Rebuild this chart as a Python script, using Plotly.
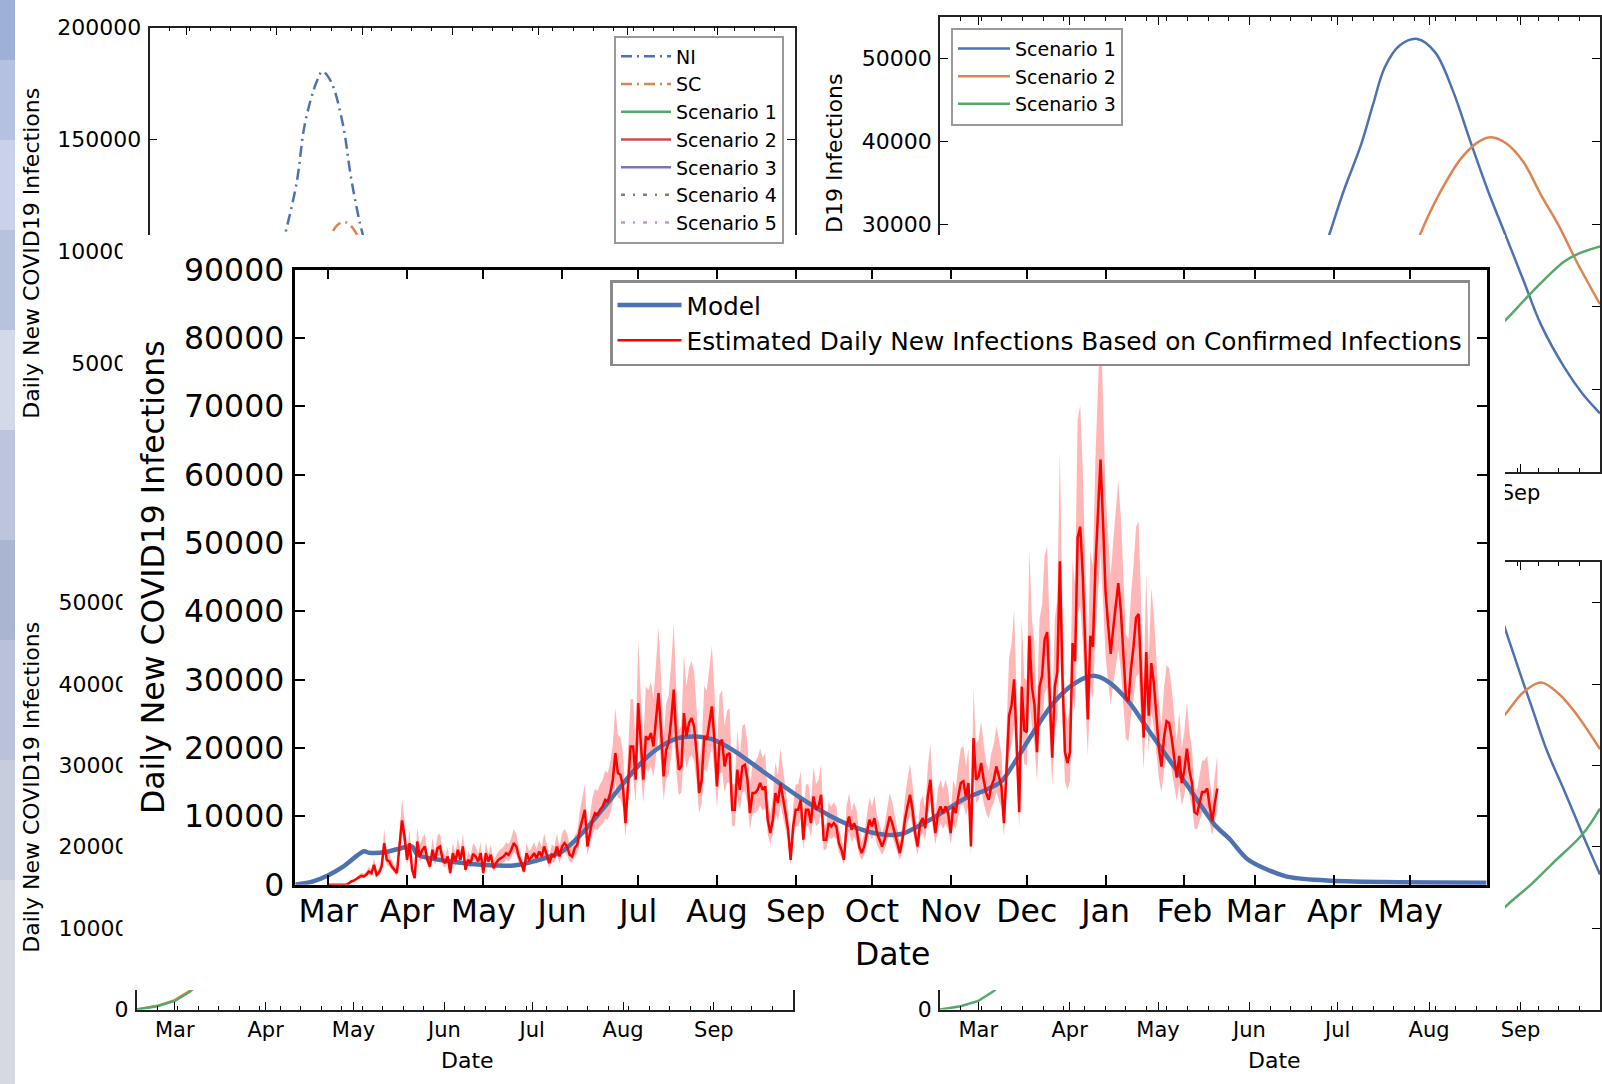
import plotly.graph_objects as go
import pandas as pd

W, H = 1602, 1084

# ---------------- data ----------------
MAIN_MONTHS = ['2020-03-01', '2020-04-01', '2020-05-01', '2020-06-01', '2020-07-01',
               '2020-08-01', '2020-09-01', '2020-10-01', '2020-11-01', '2020-12-01',
               '2021-01-01', '2021-02-01', '2021-03-01', '2021-04-01', '2021-05-01']
PANEL_MONTHS = ['2020-03-01', '2020-04-01', '2020-05-01', '2020-06-01',
                '2020-07-01', '2020-08-01', '2020-09-01']
PANEL_MONTH_LABELS = ['Mar', 'Apr', 'May', 'Jun', 'Jul', 'Aug', 'Sep']
# only "Sep" of the top-right panel's date axis shows beside the front chart
TR_MONTH_LABELS = ['', '', '', '', '', '', 'Sep']

TL_YTICKS = [0, 50000, 100000, 150000, 200000]
TL_YLABELS = ['', '50000', '100000', '150000', '200000']
SMALL_YTICKS = [0, 10000, 20000, 30000, 40000, 50000]
BL_YLABELS = ['0', '10000', '20000', '30000', '40000', '50000']
TR_YLABELS = ['', '', '', '30000', '40000', '50000']
BR_YLABELS = ['0', '', '', '', '', '']

MODEL_DATES = ['2020-02-17', '2020-02-24', '2020-03-01', '2020-03-07', '2020-03-15',
               '2020-03-17', '2020-03-23', '2020-03-28', '2020-04-03', '2020-04-05',
               '2020-04-13', '2020-04-23', '2020-05-03', '2020-05-13', '2020-05-23',
               '2020-06-01', '2020-06-09', '2020-06-20', '2020-06-30', '2020-07-08',
               '2020-07-16', '2020-07-24', '2020-07-30', '2020-08-07', '2020-08-20',
               '2020-09-02', '2020-09-15', '2020-09-27', '2020-10-06', '2020-10-13',
               '2020-10-25', '2020-11-07', '2020-11-15', '2020-11-21', '2020-11-26',
               '2020-12-04', '2020-12-12', '2020-12-20', '2020-12-27', '2021-01-02',
               '2021-01-10', '2021-01-18', '2021-01-26', '2021-02-03', '2021-02-13',
               '2021-02-19', '2021-02-26', '2021-03-13', '2021-03-29', '2021-04-20',
               '2021-05-31']
MODEL_VALUES = [0, 500, 1400, 2700, 4900,
                4700, 4750, 5200, 5600, 4400,
                3700, 3200, 2850, 2830, 3650,
                4880, 7570, 12440, 17000, 19760,
                21400, 21700, 21300, 19770, 16360,
                12940, 10000, 8060, 7330, 7470,
                9760, 12690, 13900, 15140, 17790,
                22580, 26840, 29500, 30570, 29740,
                26840, 22580, 18330, 14080, 8760,
                6630, 3700, 1230, 630, 400,
                300]

ESTIMATE_START = '2020-03-01'
ESTIMATE_VALUES = [
    # Mar - early Apr 2020
    0, 0, 0, 0, 0, 0, 0, 0, 200, 490, 600, 830, 1000, 1320, 1220, 1500, 1950, 1700,
    2930, 1460, 1810, 2680, 6100, 3660, 3420, 2680, 2200, 1710, 5610, 9420, 7080,
    3660, 6100, 2200, 980, 6340,
    # Apr - Jul 2020
    4150, 5120, 5610, 3660, 2680, 5120, 3660, 5370, 5610, 3660,
    3170, 4150, 1710, 4640, 3420, 5120, 3660, 5610, 2200, 3660,
    3170, 4540, 4150, 3420, 4640, 1710, 4640, 3420, 4390, 2440,
    3170, 3660, 3900, 4150, 4640, 4390, 5120, 6100, 5610, 4150,
    3170, 1950, 4640, 3660, 4050, 4640, 3900, 4880, 4150, 5610,
    4390, 3170, 4390, 4150, 5610, 4150, 5610, 6100, 5610, 4390,
    4150, 5370, 5860, 8050, 9520, 10980, 5610, 7570, 9520, 10490,
    10250, 10980, 11470, 12440, 12200, 13420, 15370, 19280, 16350, 16100,
    14400, 9030, 14400, 20250, 20250, 15370, 26600, 20740, 15370, 21720,
    21230, 22200, 20250, 24160, 28060, 22690, 15860, 19760, 20740, 24160,
    28550, 21230, 16840, 17330, 25130, 21720, 23670, 24400, 23180, 19280,
    13420, 15370, 21720, 21230,
    # Jul - Nov 2020
    23670, 26110, 21230, 14400, 20740, 21230, 17330, 19030, 19280, 10980,
    10980, 16840, 13900, 17330, 17570, 15370, 10490, 13420, 13420, 13900,
    14890, 13900, 14400, 9520, 7570, 9520, 13420, 11960, 14890, 12930,
    10490, 8050, 3660, 8540, 10980, 10980, 12440, 6590, 10980, 10980,
    9030, 12930, 10980, 11470, 13180, 6590, 6590, 9030, 8540, 9030,
    8540, 6100, 5120, 3660, 8540, 10000, 8050, 9030, 8050, 5610,
    4640, 5610, 7570, 9520, 8540, 9760, 7570, 6590, 5610, 6590,
    8540, 10000, 9030, 7570, 6100, 4640, 6590, 9520, 11470, 13180,
    10980, 7570, 5610, 9030, 9760, 8300, 12930, 15370, 10490, 7570,
    10490, 11470, 10490, 11470, 10490, 7570, 11470, 10490, 12930, 14890,
    15130, 12930, 14890, 5610, 21480, 15370, 15860, 17820, 15370, 13420,
    12440, 14400, 15370, 17330, 15860, 14400,
    # Nov 2020 - Feb 2021
    9030, 16740, 24730, 26320, 30050, 20480, 10630, 28990, 22600, 22340,
    36440, 28990, 26320, 19410, 28990, 30580, 35900, 36970, 26320, 18610,
    28990, 31110, 47350, 30580, 19410, 17820, 19410, 35370, 32700, 50800,
    52400, 45470, 34840, 24200, 36440, 34840, 46540, 53990, 62230, 52920,
    42820, 38030, 33770, 37500, 41220, 44150, 40160, 34300, 27390, 26860,
    31650, 34840, 39090, 39630, 30050, 21530, 34040, 24730, 32440, 29510,
    24730, 19940, 17280, 21530, 23940, 23670, 21530, 18340, 15690, 18880,
    14890, 16740, 19940, 16740, 14890, 10630, 10360, 11970, 13560, 13560,
    14100, 11430, 9300, 11970, 14100,
]
# edges of the shaded band, read as multiples of the red line
BAND_LOWER_RATIO = 0.78
BAND_UPPER_RATIO = 1.34

# top-left background panel (NI / SC peaks visible above the front chart)
TL_NI_DATES = ['2020-04-01', '2020-04-04', '2020-04-08', '2020-04-11', '2020-04-15',
               '2020-04-17', '2020-04-20', '2020-04-24', '2020-04-27', '2020-04-30',
               '2020-05-03']
TL_NI_VALUES = [92000, 107300, 130200, 157500, 175800, 180400, 175800, 157500,
                132400, 112800, 98000]
TL_SC_DATES = ['2020-04-17', '2020-04-20', '2020-04-22', '2020-04-24', '2020-04-26',
               '2020-04-28', '2020-05-01']
TL_SC_VALUES = [100000, 107500, 111500, 113000, 112500, 109500, 103000]
# scenario curves of that panel lie behind the front chart; only their start is estimated
TL_SCEN_DATES = ['2020-02-17', '2020-02-24', '2020-03-01', '2020-03-06', '2020-03-12']
TL_SCEN_VALUES = [0, 450, 1150, 2250, 4200]

# top-right background panel
TR_S1_DATES = ['2020-06-25', '2020-06-28', '2020-07-03', '2020-07-09', '2020-07-13',
               '2020-07-17', '2020-07-22', '2020-07-28', '2020-08-03', '2020-08-09',
               '2020-08-15', '2020-08-21', '2020-08-27', '2020-09-02', '2020-09-08',
               '2020-09-16', '2020-09-22', '2020-09-28']
TR_S1_VALUES = [25500, 28600, 34000, 39700, 44500, 49000, 51600, 52400, 50800, 46200,
                40000, 34000, 28600, 23200, 17800, 12600, 9500, 7100]
TR_S2_DATES = ['2020-07-26', '2020-07-29', '2020-08-05', '2020-08-12', '2020-08-18',
               '2020-08-22', '2020-08-27', '2020-09-02', '2020-09-08', '2020-09-14',
               '2020-09-20', '2020-09-28']
TR_S2_VALUES = [26000, 28800, 34000, 38000, 40000, 40500, 39800, 37500, 33500, 29800,
                25500, 20300]
TR_S3_DATES = ['2020-08-20', '2020-08-27', '2020-09-05', '2020-09-16', '2020-09-22',
               '2020-09-28']
TR_S3_VALUES = [16000, 18400, 21800, 25500, 26600, 27300]

# bottom-left background panel (only the very start is visible)
BL_EARLY_DATES = ['2020-02-17', '2020-02-24', '2020-03-01', '2020-03-06', '2020-03-12']
BL_S2_VALUES = [0, 450, 1150, 2250, 4200]
BL_S3_VALUES = [0, 400, 1050, 2150, 4000]

# bottom-right background panel
BR_EARLY_DATES = ['2020-02-17', '2020-02-24', '2020-03-01', '2020-03-06', '2020-03-12']
BR_S3_EARLY = [0, 400, 1050, 2200, 4000]
BR_S1_DATES = ['2020-08-22', '2020-08-28', '2020-09-01', '2020-09-05', '2020-09-10',
               '2020-09-16', '2020-09-22', '2020-09-28']
BR_S1_VALUES = [52000, 45500, 41200, 37000, 31800, 26800, 21600, 16600]
BR_S2_DATES = ['2020-08-22', '2020-08-28', '2020-09-02', '2020-09-08', '2020-09-14',
               '2020-09-20', '2020-09-28']
BR_S2_VALUES = [34000, 36800, 39000, 40200, 38800, 36300, 32000]
BR_S3_DATES = ['2020-08-22', '2020-08-28', '2020-09-05', '2020-09-12', '2020-09-22',
               '2020-09-28']
BR_S3_VALUES = [11000, 13000, 15500, 18000, 21500, 24700]

# ---------------- styling ----------------
BLUE, ORANGE, GREEN = '#4c72b0', '#dd8452', '#55a868'
RED2, PURPLE, BROWN, PINK = '#c44e52', '#8172b3', '#937860', '#da8bc3'
FONT = 'DejaVu Sans'
MAIN_FS = 31.5
PANEL_FS = 22
LEG_FS = 19


def dom_x(left, right):
    return [left / W, right / W]


def dom_y(top, bottom):
    return [1 - bottom / H, 1 - top / H]


est_dates = pd.date_range(ESTIMATE_START, periods=len(ESTIMATE_VALUES), freq='D')
band_low = [v * BAND_LOWER_RATIO for v in ESTIMATE_VALUES]
band_high = [v * BAND_UPPER_RATIO for v in ESTIMATE_VALUES]

fig = go.Figure()

# ---- subplot 1: top-left panel ----
fig.add_trace(go.Scatter(x=TL_NI_DATES, y=TL_NI_VALUES, mode='lines', name='NI',
                         line=dict(color=BLUE, width=2.5, dash='11px,5px,2px,5px',
                                   shape='spline'),
                         xaxis='x', yaxis='y', legend='legend2'))
fig.add_trace(go.Scatter(x=TL_SC_DATES, y=TL_SC_VALUES, mode='lines', name='SC',
                         line=dict(color=ORANGE, width=2.5, dash='11px,5px,2px,5px',
                                   shape='spline'),
                         xaxis='x', yaxis='y', legend='legend2'))
for nm, col, dash in [('Scenario 1', GREEN, 'solid'), ('Scenario 2', RED2, 'solid'),
                      ('Scenario 3', PURPLE, 'solid'), ('Scenario 4', BROWN, '4px,8px,2px,8px'),
                      ('Scenario 5', PINK, '4px,8px,2px,8px')]:
    fig.add_trace(go.Scatter(x=TL_SCEN_DATES, y=TL_SCEN_VALUES, mode='lines', name=nm,
                             line=dict(color=col, width=2.5, dash=dash),
                             xaxis='x', yaxis='y', legend='legend2'))

# ---- subplot 2: top-right panel ----
for nm, col, xs, ys in [('Scenario 1', BLUE, TR_S1_DATES, TR_S1_VALUES),
                        ('Scenario 2', ORANGE, TR_S2_DATES, TR_S2_VALUES),
                        ('Scenario 3', GREEN, TR_S3_DATES, TR_S3_VALUES)]:
    fig.add_trace(go.Scatter(x=xs, y=ys, mode='lines', name=nm,
                             line=dict(color=col, width=2.5, shape='spline'),
                             xaxis='x2', yaxis='y2', legend='legend3'))

# ---- subplot 3: bottom-left panel ----
fig.add_trace(go.Scatter(x=BL_EARLY_DATES, y=BL_S2_VALUES, mode='lines', showlegend=False,
                         line=dict(color=ORANGE, width=2.5), xaxis='x3', yaxis='y3'))
fig.add_trace(go.Scatter(x=BL_EARLY_DATES, y=BL_S3_VALUES, mode='lines', showlegend=False,
                         line=dict(color=GREEN, width=2.5), xaxis='x3', yaxis='y3'))

# ---- subplot 4: bottom-right panel ----
fig.add_trace(go.Scatter(x=BR_EARLY_DATES, y=BR_S3_EARLY, mode='lines', showlegend=False,
                         line=dict(color=GREEN, width=2.5), xaxis='x4', yaxis='y4'))
for col, xs, ys in [(BLUE, BR_S1_DATES, BR_S1_VALUES), (ORANGE, BR_S2_DATES, BR_S2_VALUES),
                    (GREEN, BR_S3_DATES, BR_S3_VALUES)]:
    fig.add_trace(go.Scatter(x=xs, y=ys, mode='lines', showlegend=False,
                             line=dict(color=col, width=2.5, shape='spline'),
                             xaxis='x4', yaxis='y4'))

# ---- subplot 5: white sheet of the front chart (hides the panels behind it) ----
fig.add_trace(go.Scatter(x=[0, 1, 1, 0, 0], y=[0, 0, 1, 1, 0], mode='lines', fill='toself',
                         fillcolor='white', line=dict(width=0, color='white'),
                         showlegend=False, hoverinfo='skip', xaxis='x5', yaxis='y5'))

# ---- subplot 6: the front chart ----
fig.add_trace(go.Scatter(x=est_dates, y=band_low, mode='lines', line=dict(width=0),
                         showlegend=False, hoverinfo='skip', xaxis='x6', yaxis='y6'))
fig.add_trace(go.Scatter(x=est_dates, y=band_high, mode='lines', line=dict(width=0),
                         fill='tonexty', fillcolor='rgba(255,110,110,0.5)',
                         showlegend=False, hoverinfo='skip', xaxis='x6', yaxis='y6'))
fig.add_trace(go.Scatter(x=MODEL_DATES, y=MODEL_VALUES, mode='lines', name='Model',
                         line=dict(color=BLUE, width=4.5, shape='spline', smoothing=0.8),
                         xaxis='x6', yaxis='y6', legend='legend', legendgroup='m'))
fig.add_trace(go.Scatter(x=est_dates, y=ESTIMATE_VALUES, mode='lines',
                         name='Estimated Daily New Infections Based on Confirmed Infections',
                         line=dict(color='#ff0000', width=2.5),
                         xaxis='x6', yaxis='y6', legend='legend', legendgroup='e'))

PANEL_RANGE = ['2020-02-17', '2020-09-28']


def panel_x(domain, anchor, labels, show=True):
    return dict(domain=domain, anchor=anchor, range=PANEL_RANGE, type='date',
                tickvals=PANEL_MONTHS, ticktext=labels, showticklabels=show,
                ticks='inside', ticklen=8,
                tickwidth=1.2, tickcolor='black', showline=True, linecolor='#222',
                linewidth=1.5, mirror='ticks', showgrid=False, zeroline=False,
                tickfont=dict(family=FONT, size=PANEL_FS - 1, color='black'),
                minor=dict(ticks='inside', ticklen=4, tickcolor='black',
                           dtick=7 * 86400000, tick0='2020-02-17', showgrid=False),
                automargin=False, fixedrange=True, ticklabelstandoff=1)


def panel_y(domain, anchor, rng, tickvals, labels):
    return dict(domain=domain, anchor=anchor, range=rng, tickvals=tickvals, ticktext=labels,
                ticks='inside', ticklen=8, tickwidth=1.2, tickcolor='black',
                showline=True, linecolor='#222', linewidth=1.5, mirror='ticks',
                showgrid=False, zeroline=False,
                tickfont=dict(family=FONT, size=PANEL_FS, color='black'),
                automargin=False, fixedrange=True, ticklabelstandoff=2)


main_axis_common = dict(ticks='inside', ticklen=10, tickwidth=1.5, tickcolor='black',
                        showline=True, linecolor='black', linewidth=2.5, mirror='ticks',
                        showgrid=False, zeroline=False, automargin=False, fixedrange=True,
                        tickfont=dict(family=FONT, size=MAIN_FS, color='black'))

fig.update_layout(
    width=W, height=H, margin=dict(l=0, r=0, t=0, b=0),
    paper_bgcolor='white', plot_bgcolor='white',
    font=dict(family=FONT, color='black'),
    xaxis=panel_x(dom_x(149.5, 795), 'y', PANEL_MONTH_LABELS, show=False),
    yaxis=panel_y(dom_y(27.6, 475), 'x', [0, 200000], TL_YTICKS, TL_YLABELS),
    xaxis2=panel_x(dom_x(940, 1600), 'y2', TR_MONTH_LABELS),
    yaxis2=panel_y(dom_y(17.4, 472), 'x2', [0, 55000], SMALL_YTICKS, TR_YLABELS),
    xaxis3=panel_x(dom_x(136.7, 793), 'y3', PANEL_MONTH_LABELS),
    yaxis3=panel_y(dom_y(562, 1009.5), 'x3', [0, 55000], SMALL_YTICKS, BL_YLABELS),
    xaxis4=panel_x(dom_x(940, 1600), 'y4', PANEL_MONTH_LABELS),
    yaxis4=panel_y(dom_y(562, 1009.5), 'x4', [0, 55000], SMALL_YTICKS, BR_YLABELS),
    xaxis5=dict(domain=dom_x(122.6, 1505), anchor='y5', range=[0, 1], visible=False,
                fixedrange=True),
    yaxis5=dict(domain=dom_y(235, 990), anchor='x5', range=[0, 1], visible=False,
                fixedrange=True),
    xaxis6=dict(domain=dom_x(295.3, 1486.6), anchor='y6', type='date',
                range=['2020-02-17', '2021-05-31'], tickvals=MAIN_MONTHS, tickformat='%b',
                ticklabelstandoff=-3, **main_axis_common),
    yaxis6=dict(domain=dom_y(269.7, 884.8), anchor='x6', range=[0, 90000], dtick=10000,
                tickformat='d', ticklabelstandoff=2, **main_axis_common),
    legend=dict(x=610 / W, y=1 - 280 / H, xanchor='left', yanchor='top',
                bgcolor='white', bordercolor='#8a8a8a', borderwidth=2.5,
                font=dict(family=FONT, size=24.8, color='black'), itemwidth=64,
                traceorder='normal', tracegroupgap=1),
    legend2=dict(x=614 / W, y=1 - 35.5 / H, xanchor='left', yanchor='top',
                 bgcolor='white', bordercolor='#9a9a9a', borderwidth=2,
                 font=dict(family=FONT, size=LEG_FS, color='black'), itemwidth=50,
                 traceorder='normal'),
    legend3=dict(x=951 / W, y=1 - 27.6 / H, xanchor='left', yanchor='top',
                 bgcolor='white', bordercolor='#9a9a9a', borderwidth=2,
                 font=dict(family=FONT, size=LEG_FS, color='black'), itemwidth=52,
                 traceorder='normal'),
    hovermode=False,
)

annotations = [
    dict(text='Daily New COVID19 Infections', x=153 / W, y=1 - 577 / H, textangle=-90,
         font=dict(size=MAIN_FS, family=FONT, color='black')),
    dict(text='Date', x=892 / W, y=1 - 954 / H, font=dict(size=MAIN_FS, family=FONT, color='black')),
    dict(text='Daily New COVID19 Infections', x=30.7 / W, y=1 - 253 / H, textangle=-90,
         font=dict(size=PANEL_FS, family=FONT, color='black')),
    dict(text='Daily New COVID19 Infections', x=30.7 / W, y=1 - 787 / H, textangle=-90,
         font=dict(size=PANEL_FS, family=FONT, color='black')),
    dict(text='D19 Infections', x=835 / W, y=1 - 154 / H, textangle=-90,
         font=dict(size=PANEL_FS, family=FONT, color='black')),
    dict(text='Date', x=467 / W, y=1 - 1060.5 / H, font=dict(size=PANEL_FS, family=FONT, color='black')),
    dict(text='Date', x=1274 / W, y=1 - 1060.5 / H, font=dict(size=PANEL_FS, family=FONT, color='black')),
]
for a in annotations:
    a.update(xref='paper', yref='paper', showarrow=False, xanchor='center', yanchor='middle')
fig.update_layout(annotations=annotations)

# bluish photo edge at the far left of the page
STRIP_BANDS = [(0, 60, '#9fb0d6'), (60, 140, '#b4c1e0'), (140, 230, '#c9d2e8'),
               (230, 330, '#b7c2dc'), (330, 430, '#d3d9e8'), (430, 540, '#bcc5dc'),
               (540, 640, '#aab5d2'), (640, 760, '#b9c2da'), (760, 880, '#c7cddc'),
               (880, 1084, '#d6d9df')]
shapes = []
for top, bottom, col in STRIP_BANDS:
    shapes.append(dict(type='rect', xref='paper', yref='paper', x0=0, x1=15 / W,
                       y0=1 - bottom / H, y1=1 - top / H, fillcolor=col,
                       line=dict(width=0), layer='below'))
fig.update_layout(shapes=shapes)

fig.write_html('out.html', config={'displayModeBar': False},
               post_script="document.body.style.margin='0';document.body.style.padding='0';"
                           "document.documentElement.style.overflow='hidden';")
